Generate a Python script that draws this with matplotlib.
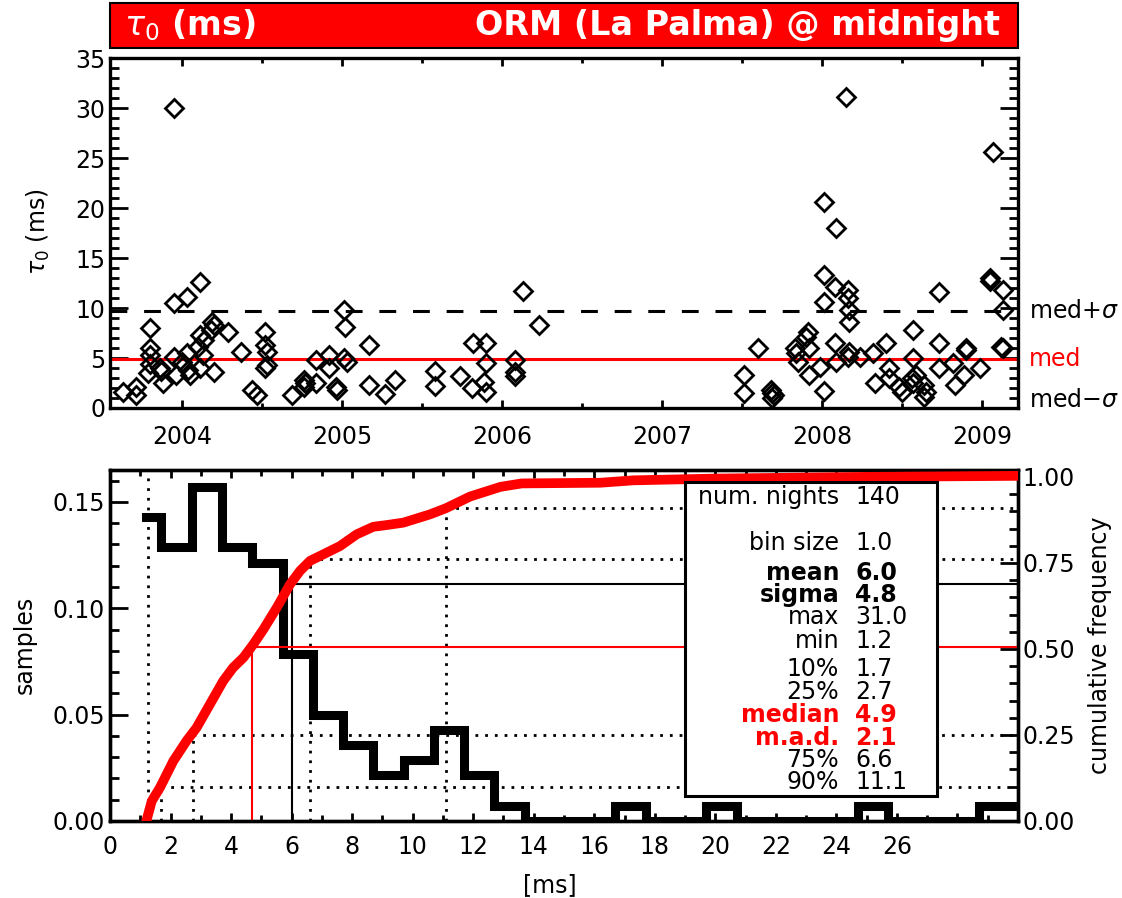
import numpy as np
import matplotlib
matplotlib.use("Agg")
from matplotlib import pyplot as plt
from matplotlib.patches import Rectangle
from matplotlib.ticker import MultipleLocator

# tau0 per night (decimal year, ms)
years = [2003.63, 2003.71, 2003.71, 2003.80, 2003.80, 2003.80, 2003.79, 2003.80, 2003.86, 2003.87,
         2003.88, 2003.95, 2003.95, 2003.95, 2003.96, 2004.03, 2004.11, 2004.03, 2004.00, 2004.04,
         2004.05, 2004.10, 2004.11, 2004.14, 2004.13, 2004.11, 2004.19, 2004.20, 2004.18, 2004.20,
         2004.29, 2004.37, 2004.44, 2004.47, 2004.52, 2004.52, 2004.53, 2004.53, 2004.52, 2004.69,
         2004.76, 2004.76, 2004.77, 2004.84, 2004.84, 2004.92, 2004.92, 2004.96, 2004.97,
         2005.01, 2005.02, 2005.01, 2005.03, 2005.17, 2005.17, 2005.27, 2005.33, 2005.58, 2005.58,
         2005.74, 2005.81, 2005.82, 2005.90, 2005.90, 2005.89, 2005.90, 2006.08, 2006.08, 2006.08,
         2006.13, 2006.23,
         2007.51, 2007.51, 2007.60, 2007.68, 2007.69, 2007.70, 2007.69,
         2007.83, 2007.84, 2007.85, 2007.91, 2007.90, 2007.92, 2007.92, 2007.99, 2008.01, 2008.01,
         2008.01, 2008.01, 2008.08, 2008.08, 2008.09, 2008.09, 2008.15, 2008.16, 2008.16, 2008.17,
         2008.17, 2008.17, 2008.16, 2008.24, 2008.32, 2008.33, 2008.40, 2008.42, 2008.42, 2008.48,
         2008.50, 2008.57, 2008.57, 2008.56, 2008.57, 2008.59, 2008.64, 2008.65, 2008.64, 2008.73,
         2008.73, 2008.73, 2008.82, 2008.83, 2008.90, 2008.90, 2008.89, 2008.99, 2009.05, 2009.05,
         2009.07, 2009.13, 2009.13, 2009.12, 2009.13]
tau0 = [1.6, 2.1, 1.3, 8.0, 6.0, 5.3, 3.5, 4.4, 4.0, 3.7,
        2.5, 30.0, 10.5, 5.1, 3.3, 11.1, 12.6, 5.5, 4.6, 3.8,
        3.3, 6.1, 7.3, 6.8, 5.3, 4.0, 8.6, 8.3, 7.8, 3.6,
        7.6, 5.6, 1.8, 1.3, 7.6, 6.3, 5.6, 4.3, 4.0, 1.3,
        2.8, 2.1, 2.5, 2.5, 4.8, 5.3, 4.0, 2.1, 1.8,
        9.8, 8.1, 5.0, 4.6, 6.3, 2.3, 1.4, 2.8, 3.7, 2.2,
        3.2, 2.0, 6.5, 6.5, 4.5, 2.6, 1.6, 4.8, 3.6, 3.2,
        11.7, 8.3,
        3.3, 1.5, 6.0, 1.8, 1.5, 1.3, 1.0,
        6.0, 5.5, 4.6, 7.6, 7.1, 6.0, 3.3, 4.1, 1.7, 10.6,
        13.3, 20.6, 12.1, 6.5, 4.6, 18.0, 31.1, 11.8, 11.0, 9.8,
        8.6, 5.6, 5.1, 5.1, 5.5, 2.5, 6.5, 4.0, 3.0, 2.1,
        1.6, 7.8, 5.0, 3.0, 2.5, 3.3, 2.3, 1.6, 1.1, 11.6,
        6.5, 4.0, 4.5, 2.3, 5.8, 6.0, 3.3, 4.0, 13.0, 12.7,
        25.6, 11.8, 9.8, 6.1, 6.0]

# statistics shown in the box
num_nights = 140
med = 4.9
sig = 4.8
stat_labels = ["num. nights", "bin size", "mean", "sigma", "max", "min",
               "10%", "25%", "median", "m.a.d.", "75%", "90%"]
stat_values = ["140", "1.0", "6.0", "4.8", "31.0", "1.2",
               "1.7", "2.7", "4.9", "2.1", "6.6", "11.1"]

# histogram, bin size 1.0 (counts per bin)
bin_centers = [1.2, 2.2, 3.2, 4.2, 5.2, 6.2, 7.2, 8.2, 9.2, 10.2, 11.2, 12.2, 13.2, 14.2, 15.2,
               16.2, 17.2, 18.2, 19.2, 20.2, 21.2, 22.2, 23.2, 24.2, 25.2, 26.2, 27.2, 28.2,
               29.2, 30.2]
bin_counts = [20, 18, 22, 18, 17, 11, 7, 5, 3, 4, 6, 3, 1, 0, 0,
              0, 1, 0, 0, 1, 0, 0, 0, 0, 1, 0, 0, 0,
              1, 1]

# cumulative frequency curve
cum_x = [1.2, 1.38, 1.65, 2.09, 2.53, 2.86, 3.30, 3.74, 4.07, 4.41, 4.74, 5.07, 5.51,
         5.95, 6.28, 6.61, 7.05, 7.60, 8.15, 8.70, 9.14, 9.69, 10.57, 11.1, 11.9, 12.9, 13.6,
         16.2, 17.3, 20.0, 25.0, 30.0]
cum_y = [0.0, 0.058, 0.097, 0.174, 0.233, 0.271, 0.339, 0.407, 0.446, 0.475, 0.514,
         0.557, 0.620, 0.688, 0.727, 0.756, 0.775, 0.799, 0.833, 0.855, 0.860, 0.867, 0.891,
         0.909, 0.943, 0.971, 0.981, 0.983, 0.99, 0.995, 1.0, 1.003]

# guide lines in the histogram panel: (x, cumulative level)
min_line = 1.24
quartile_lines = [(1.7, 0.10), (2.75, 0.25), (6.6, 0.76), (11.1, 0.91)]
mean_line = (6.0, 0.688)
median_line = (4.68, 0.507)

year_ticks = [2004, 2005, 2006, 2007, 2008, 2009]
ms_ticks = list(range(0, 31, 2))
ms_labels = [str(t) if t <= 26 else "" for t in ms_ticks]

FS = 17
W, H = 1122, 898
plt.rcParams["font.family"] = ["DejaVu Sans"]

fig = plt.figure(figsize=(W / 100, H / 100), dpi=100)


def box(x0, y0, x1, y1):
    # pixel box -> figure fraction rect
    return [x0 / W, 1 - y1 / H, (x1 - x0) / W, (y1 - y0) / H]


# title bar
fig.add_artist(Rectangle((110 / W, 1 - 48 / H), 908 / W, 45 / H, transform=fig.transFigure,
                         facecolor="red", edgecolor="black", lw=1.5))
fig.text(124 / W, 1 - 25 / H, r"$\tau_0$ (ms)", color="white", fontsize=24, fontweight="bold",
         ha="left", va="center")
fig.text(1000 / W, 1 - 25 / H, "ORM (La Palma) @ midnight", color="white", fontsize=24,
         fontweight="bold", ha="right", va="center")

# top panel: tau0 vs time
ax = fig.add_axes(box(110, 58, 1018, 408))
ax.plot(years, tau0, "D", ms=9.5, mfc="none", mec="black", mew=2, zorder=3)
ax.axhline(med, color="red", lw=2.2, zorder=2)
ax.axhline(med + sig, color="black", lw=2.2, ls=(0, (5.5, 5.5)), zorder=2)
ax.set_xlim(2003.55, 2009.225)
ax.set_ylim(0, 35)
ax.set_xticks(year_ticks)
ax.set_xticklabels([str(y) for y in year_ticks])
ax.xaxis.set_minor_locator(MultipleLocator(0.5))
ax.set_yticks(range(0, 36, 5))
ax.yaxis.set_minor_locator(MultipleLocator(1))
ax.tick_params(axis="x", which="both", direction="in", top=True, bottom=True, labelsize=FS,
               width=2, pad=12)
ax.tick_params(axis="x", which="major", length=6)
ax.tick_params(axis="x", which="minor", length=3.5)
ax.tick_params(axis="y", which="both", direction="in", left=True, right=True, labelsize=FS,
               width=2)
ax.tick_params(axis="y", which="major", length=13)
ax.tick_params(axis="y", which="minor", length=6.5)
for s in ax.spines.values():
    s.set_linewidth(2.4)
ax.text(1.012, med + sig, r"med+$\sigma$", transform=ax.get_yaxis_transform(), fontsize=FS,
        va="center", ha="left")
ax.text(1.012, med, "med", transform=ax.get_yaxis_transform(), fontsize=FS, color="red",
        va="center", ha="left")
ax.text(1.012, max(med - sig, 0.8), r"med$-\sigma$", transform=ax.get_yaxis_transform(),
        fontsize=FS, va="center", ha="left")
fig.text(38 / W, 1 - 232 / H, r"$\tau_0$ (ms)", rotation=90, fontsize=FS, ha="center", va="center")

# bottom panel: histogram + cumulative frequency
axb = fig.add_axes(box(110, 470, 1018, 821))
samples = [c / num_nights for c in bin_counts]
axb.step(bin_centers, samples, where="mid", color="black", lw=6.5, solid_joinstyle="miter")
axb.set_xlim(0, 30)
axb.set_ylim(0, 0.165)
axb.set_xticks(ms_ticks)
axb.set_xticklabels(ms_labels)
axb.xaxis.set_minor_locator(MultipleLocator(1))
axb.set_yticks([0, 0.05, 0.10, 0.15])
axb.set_yticklabels(["0.00", "0.05", "0.10", "0.15"])
axb.yaxis.set_minor_locator(MultipleLocator(0.01))
axb.tick_params(axis="x", which="both", direction="in", top=True, bottom=True, labelsize=FS,
                width=2, pad=10)
axb.tick_params(axis="x", which="major", length=6)
axb.tick_params(axis="x", which="minor", length=4)
axb.tick_params(axis="y", which="both", direction="in", left=True, right=False, labelsize=FS,
                width=2)
axb.tick_params(axis="y", which="major", length=13)
axb.tick_params(axis="y", which="minor", length=6.5)
for s in axb.spines.values():
    s.set_linewidth(2.4)

ax2 = axb.twinx()
ax2.set_ylim(0, 1.02)
ax2.set_yticks([0, 0.25, 0.5, 0.75, 1.0])
ax2.set_yticklabels(["0.00", "0.25", "0.50", "0.75", "1.00"])
ax2.yaxis.set_minor_locator(MultipleLocator(0.05))
ax2.tick_params(axis="y", which="both", direction="in", labelsize=FS, width=2)
ax2.tick_params(axis="y", which="major", length=13)
ax2.tick_params(axis="y", which="minor", length=6.5)
for s in ax2.spines.values():
    s.set_linewidth(2.4)

dot = (0, (1, 2.5))
ax2.plot([min_line, min_line], [0, 1.02], color="black", lw=2, ls=dot)
for qx, qy in quartile_lines:
    ax2.plot([qx, qx], [0, qy], color="black", lw=2, ls=dot)
    ax2.plot([qx, 30], [qy, qy], color="black", lw=2, ls=dot)
ax2.plot([mean_line[0], mean_line[0], 30], [0, mean_line[1], mean_line[1]], color="black", lw=1.5)
ax2.plot([median_line[0], median_line[0], 30], [0, median_line[1], median_line[1]], color="red",
         lw=1.5)
ax2.plot(cum_x, cum_y, color="red", lw=7, solid_capstyle="round", solid_joinstyle="round",
         zorder=5)

# stats box
ax2.add_patch(Rectangle((0.633, 0.071), 0.278, 0.895, transform=ax2.transAxes,
                        facecolor="white", edgecolor="black", lw=2.2, zorder=10))
line_y = [497, 543, 573, 595, 617, 641, 669, 692, 715, 738, 760, 782]
for lab, val, py in zip(stat_labels, stat_values, line_y):
    color = "red" if lab in ("median", "m.a.d.") else "black"
    weight = "bold" if lab in ("mean", "sigma", "median", "m.a.d.") else "normal"
    yy = (821 - py) / 351
    ax2.text(0.803, yy, lab, transform=ax2.transAxes, ha="right", va="center", fontsize=FS,
             color=color, fontweight=weight, zorder=11)
    ax2.text(0.8205, yy, val, transform=ax2.transAxes, ha="left", va="center", fontsize=FS,
             color=color, fontweight=weight, zorder=11)

fig.text(25 / W, 1 - 645 / H, "samples", rotation=90, fontsize=FS, ha="center", va="center")
fig.text(1100 / W, 1 - 645 / H, "cumulative frequency", rotation=90, fontsize=FS, ha="center",
         va="center")
fig.text(550 / W, 1 - 885 / H, "[ms]", fontsize=FS, ha="center", va="center")

fig.savefig("out.png", dpi=100)
